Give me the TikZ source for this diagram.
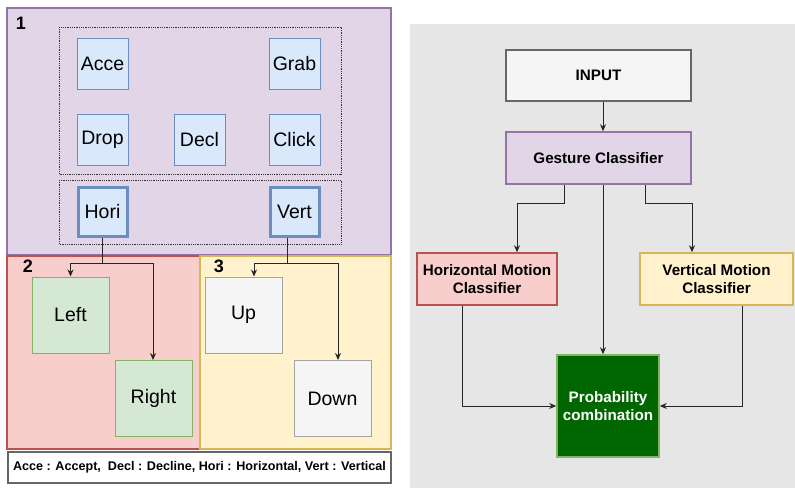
\documentclass[tikz,border=0pt]{standalone}
\usepackage{fontspec}
\setmainfont{Liberation Sans}
\usetikzlibrary{arrows.meta,calc}
\definecolor{purF}{HTML}{E1D5E7}\definecolor{purS}{HTML}{9673A6}
\definecolor{redF}{HTML}{F8CECC}\definecolor{redS}{HTML}{B85450}
\definecolor{yelF}{HTML}{FFF2CC}\definecolor{yelS}{HTML}{D6B656}
\definecolor{grnF}{HTML}{D5E8D4}\definecolor{grnS}{HTML}{82B366}
\definecolor{bluF}{HTML}{DAE8FC}\definecolor{bluS}{HTML}{6C8EBF}
\definecolor{gryF}{HTML}{F5F5F5}\definecolor{gryS}{HTML}{666666}
\definecolor{bgG}{HTML}{E6E6E6}\definecolor{darkG}{HTML}{006600}
\tikzset{
  region/.style={draw, line width=2.5pt, inner sep=0pt},
  gbox/.style={draw=bluS, fill=bluF, line width=1pt, minimum width=51pt, minimum height=51pt, inner sep=0pt, font=\fontsize{19.5}{21}\selectfont},
  dbox/.style={gbox, line width=3pt, minimum width=49pt, minimum height=49pt},
  obox/.style={draw, line width=1pt, minimum width=77pt, minimum height=76pt, inner sep=0pt, font=\fontsize{19.5}{21}\selectfont},
  cbox/.style={draw, line width=1.5pt, inner sep=0pt, align=center, font=\fontsize{15.2}{17.5}\selectfont\bfseries},
  lab/.style={font=\fontsize{18}{20}\selectfont\bfseries, inner sep=0pt},
  dotbox/.style={draw=black!80, densely dotted, line width=0.8pt},
  arr/.style={-{Stealth[length=7pt,width=6pt]}, line width=1pt, draw=black!85},
  ln/.style={line width=1pt, draw=black!85}
}
\begin{document}
\begin{tikzpicture}[x=1pt,y=-1pt]
\useasboundingbox (0,0) rectangle (795,488);
\fill[white] (0,0) rectangle (795,488);
% ---------------- left panel ----------------
\node[region, draw=purS, fill=purF, minimum width=384pt, minimum height=247pt] (r1) at (199,131.5) {};
\node[region, draw=redS, fill=redF, minimum width=193pt, minimum height=193pt] (r2) at (103.5,352.5) {};
\node[region, draw=yelS, fill=yelF, minimum width=191pt, minimum height=193pt] (r3) at (295.5,352.5) {};
\node[lab] (l1) at (21,23) {1};
\node[lab] (l2) at (28,266) {2};
\node[lab] (l3) at (219,266) {3};
\draw[dotbox] (59,27) rectangle (341,174);
\draw[dotbox] (59,180) rectangle (341,244);
\node[gbox] (acce) at (102.5,63.5) {Acce};
\node[gbox] (grab) at (294.5,63.5) {Grab};
\node[gbox] (drop) at (102.5,139.5) {Drop};
\node[gbox] (decl) at (199.5,139.5) {Decl};
\node[gbox] (click) at (294.5,139.5) {Click};
\node[dbox] (hori) at (102.5,211.5) {Hori};
\node[dbox] (vert) at (294.5,211.5) {Vert};
\node[obox, draw=grnS, fill=grnF] (left) at (70.5,315) {Left};
\node[obox, draw=grnS, fill=grnF] (right) at (153.5,398.5) {Right};
\node[obox, draw=gryS!60, fill=gryF] (up) at (243.5,315) {Up};
\node[obox, draw=gryS!60, fill=gryF] (down) at (332.5,398.5) {Down};
\coordinate (hy) at (0,263);
\coordinate (rn) at ($(right.north)+(-0.5,0)$);
\draw[ln] (hori.south) -- (hori.south |- hy);
\draw[arr] (hori.south |- hy) -| (left.north);
\draw[arr] (hori.south |- hy) -| (rn);
\coordinate (vx) at ($(vert.south)+(-7.5,0)$);
\coordinate (un) at ($(up.north)+(10.5,0)$);
\coordinate (dn) at ($(down.north)+(5.5,0)$);
\draw[ln] (vx) -- (vx |- hy);
\draw[arr] (vx |- hy) -| (un);
\draw[arr] (vx |- hy) -| (dn);
\node[draw=gryS, line width=2pt, fill=white, minimum width=383pt, minimum height=31pt, inner sep=0pt, font=\fontsize{12.6}{14}\selectfont\bfseries] (legend) at (199.5,467.5) {Acce : Accept,\ \ Decl : Decline, Hori : Horizontal, Vert : Vertical};
% ---------------- right panel ----------------
\fill[bgG] (410,24) rectangle (795,488);
\node[cbox, draw=gryS, fill=gryF, minimum width=185pt, minimum height=51pt] (input) at (598.5,75.5) {INPUT};
\node[cbox, draw=purS, fill=purF, minimum width=185pt, minimum height=52pt] (gest) at (598.5,158) {Gesture Classifier};
\node[cbox, draw=redS, fill=redF, minimum width=140pt, minimum height=52pt] (horc) at (487,279) {Horizontal Motion\\Classifier};
\node[cbox, draw=yelS, fill=yelF, minimum width=153pt, minimum height=52pt] (verc) at (716.5,279) {Vertical Motion\\Classifier};
\node[cbox, draw=grnS, fill=darkG, text=white, minimum width=102pt, minimum height=102pt] (prob) at (608,406) {Probability\\combination};
\coordinate (gy) at (0,203);
\coordinate (is) at ($(input.south)+(4.5,0)$);
\coordinate (gn) at ($(gest.north)+(4.5,0)$);
\coordinate (gs1) at ($(gest.south)+(-34.5,0)$);
\coordinate (gs2) at ($(gest.south)+(4.5,0)$);
\coordinate (gs3) at ($(gest.south)+(46.5,0)$);
\coordinate (hn) at ($(horc.north)+(30,0)$);
\coordinate (vn) at ($(verc.north)+(-24.5,0)$);
\coordinate (pn) at ($(prob.north)+(-5,0)$);
\coordinate (hs) at ($(horc.south)+(-25,0)$);
\coordinate (vs) at ($(verc.south)+(25.5,0)$);
\draw[arr] (is) -- (gn);
\draw[arr] (gs1) |- (hn |- gy) -- (hn);
\draw[arr] (gs3) |- (vn |- gy) -- (vn);
\draw[arr] (gs2) -- (pn);
\draw[arr] (hs) |- (prob.west);
\draw[arr] (vs) |- (prob.east);
\end{tikzpicture}
\end{document}
